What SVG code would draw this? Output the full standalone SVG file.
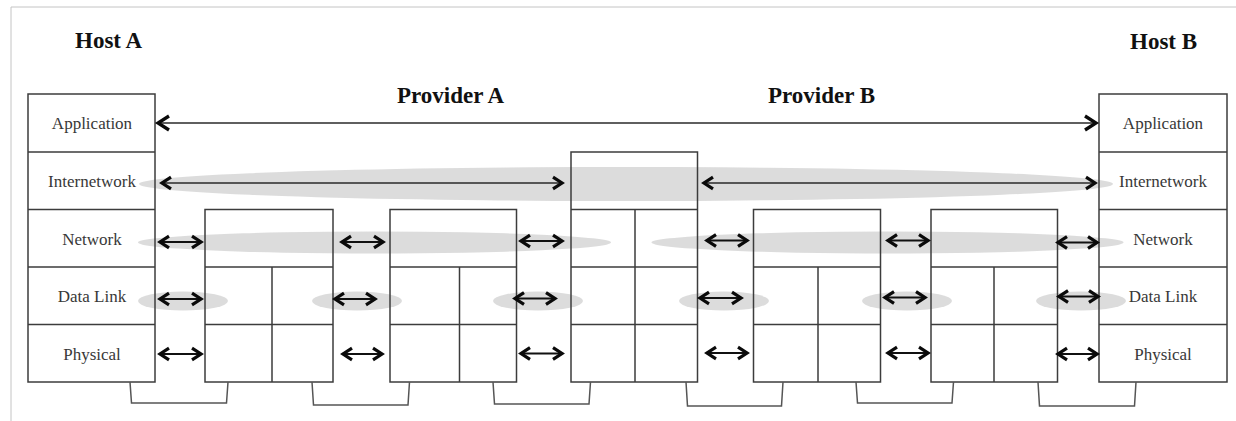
<svg xmlns="http://www.w3.org/2000/svg" width="1236" height="421" viewBox="0 0 1236 421">
<style>
.frame{fill:none;stroke:#c4c4c4;stroke-width:1}
.band{fill:#d6d6d6;fill-opacity:0.85}
.box{fill:none;stroke:#3c3c3c;stroke-width:1.5}
.lbl{font-family:"Liberation Serif","Times New Roman",serif;font-size:17px;fill:#383838;text-anchor:middle}
.ttl{font-family:"Liberation Serif","Times New Roman",serif;font-size:23px;font-weight:bold;fill:#111}
.shaft{stroke:#2a2a2a;stroke-width:1.6;fill:none;marker-start:url(#ah);marker-end:url(#ah)}
.short{stroke:#111;stroke-width:2;fill:none;marker-start:url(#ah);marker-end:url(#ah)}
.link{fill:none;stroke:#555;stroke-width:1.5}
</style>
<defs>
<marker id="ah" viewBox="-13 -9 18 18" markerWidth="18" markerHeight="18" refX="0" refY="0" orient="auto-start-reverse" markerUnits="userSpaceOnUse">
<path d="M-9,-5.8 L0,0 L-9,5.8" fill="none" stroke="#0a0a0a" stroke-width="3.2"/>
</marker>
<marker id="ahL" viewBox="-14 -10 19 20" markerWidth="19" markerHeight="20" refX="0" refY="0" orient="auto-start-reverse" markerUnits="userSpaceOnUse">
<path d="M-11,-7 L0,0 L-11,7" fill="none" stroke="#0a0a0a" stroke-width="3.3"/>
</marker>
</defs>
<path class="frame" d="M11,421 L11,7 L1236,7"/>
<g id="bands">
<ellipse class="band" cx="626" cy="184" rx="487" ry="17"/>
<ellipse class="band" cx="374.5" cy="242.5" rx="236.5" ry="11"/>
<ellipse class="band" cx="887.5" cy="242.5" rx="236" ry="11"/>
<ellipse class="band" cx="183" cy="301" rx="45" ry="9.5"/>
<ellipse class="band" cx="357" cy="301" rx="45" ry="9.5"/>
<ellipse class="band" cx="538" cy="301" rx="45" ry="9.5"/>
<ellipse class="band" cx="724" cy="301" rx="45" ry="9.5"/>
<ellipse class="band" cx="907" cy="301" rx="45" ry="9.5"/>
<ellipse class="band" cx="1081" cy="301" rx="45" ry="9.5"/>
</g>
<g id="titles">
<text class="ttl" x="75" y="48">Host A</text>
<text class="ttl" x="1130" y="49">Host B</text>
<text class="ttl" x="397" y="103">Provider A</text>
<text class="ttl" x="768" y="103">Provider B</text>
</g>
<g id="hostA">
<rect class="box" x="28" y="94" width="127" height="288"/>
<path class="box" d="M28,152 H155 M28,209.5 H155 M28,267 H155 M28,324.5 H155"/>
<text class="lbl" x="92" y="129">Application</text>
<text class="lbl" x="92" y="187">Internetwork</text>
<text class="lbl" x="92" y="244.5">Network</text>
<text class="lbl" x="92" y="302">Data Link</text>
<text class="lbl" x="92" y="359.5">Physical</text>
</g>
<g id="hostB">
<rect class="box" x="1099" y="94" width="128" height="288"/>
<path class="box" d="M1099,152 H1227 M1099,209.5 H1227 M1099,267 H1227 M1099,324.5 H1227"/>
<text class="lbl" x="1163" y="129">Application</text>
<text class="lbl" x="1163" y="187">Internetwork</text>
<text class="lbl" x="1163" y="244.5">Network</text>
<text class="lbl" x="1163" y="302">Data Link</text>
<text class="lbl" x="1163" y="359.5">Physical</text>
</g>
<g id="routerA1">
<rect class="box" x="205" y="209.5" width="128" height="172.5"/>
<path class="box" d="M205,267 H333 M205,324.5 H333 M272,267 V382"/>
</g>
<g id="routerA2">
<rect class="box" x="390" y="209.5" width="126.5" height="172.5"/>
<path class="box" d="M390,267 H516.5 M390,324.5 H516.5 M459.5,267 V382"/>
</g>
<g id="gateway">
<rect class="box" x="571" y="152" width="126.5" height="230"/>
<path class="box" d="M571,209.5 H697.5 M571,267 H697.5 M571,324.5 H697.5 M635,209.5 V382"/>
</g>
<g id="routerB1">
<rect class="box" x="753.5" y="209.5" width="127" height="172.5"/>
<path class="box" d="M753.5,267 H880.5 M753.5,324.5 H880.5 M818,267 V382"/>
</g>
<g id="routerB2">
<rect class="box" x="931" y="209.5" width="126.5" height="172.5"/>
<path class="box" d="M931,267 H1057.5 M931,324.5 H1057.5 M994,267 V382"/>
</g>
<g id="connectors">
<line x1="158" y1="123" x2="1096" y2="123" stroke="#2a2a2a" stroke-width="1.6" marker-start="url(#ahL)" marker-end="url(#ahL)"/>
<line class="shaft" x1="162" y1="183" x2="562" y2="183"/>
<line class="shaft" x1="704" y1="183" x2="1095" y2="183"/>
<line class="short" x1="160" y1="242" x2="201" y2="242"/>
<line class="short" x1="160" y1="299" x2="201" y2="299"/>
<line class="short" x1="160" y1="354" x2="201" y2="354"/>
<line class="short" x1="342" y1="242" x2="383" y2="242"/>
<line class="short" x1="335" y1="299" x2="375" y2="299"/>
<line class="short" x1="343" y1="354" x2="382" y2="354"/>
<line class="short" x1="521" y1="241" x2="562" y2="241"/>
<line class="short" x1="515" y1="298.5" x2="555" y2="298.5"/>
<line class="short" x1="521" y1="353.5" x2="562" y2="353.5"/>
<line class="short" x1="707" y1="240.5" x2="747" y2="240.5"/>
<line class="short" x1="700" y1="298" x2="741" y2="298"/>
<line class="short" x1="707" y1="353" x2="747" y2="353"/>
<line class="short" x1="888" y1="240.5" x2="928" y2="240.5"/>
<line class="short" x1="885" y1="297.5" x2="925" y2="297.5"/>
<line class="short" x1="888" y1="353" x2="928" y2="353"/>
<line class="short" x1="1058" y1="242.5" x2="1097" y2="242.5"/>
<line class="short" x1="1059" y1="296.5" x2="1098" y2="296.5"/>
<line class="short" x1="1058" y1="354" x2="1097" y2="354"/>
<path class="link" d="M130,382 L131.5,403 L226.5,403 L228,382"/>
<path class="link" d="M312,382 L313.5,405 L408,405 L409.5,382"/>
<path class="link" d="M493,382 L494.5,404 L589,404 L590.5,382"/>
<path class="link" d="M686,382 L687.5,406 L781.5,406 L783,382"/>
<path class="link" d="M856,382 L857.5,403 L952,403 L953.5,382"/>
<path class="link" d="M1038,382 L1039.5,406 L1134.5,406 L1136,382"/>
</g>
</svg>
